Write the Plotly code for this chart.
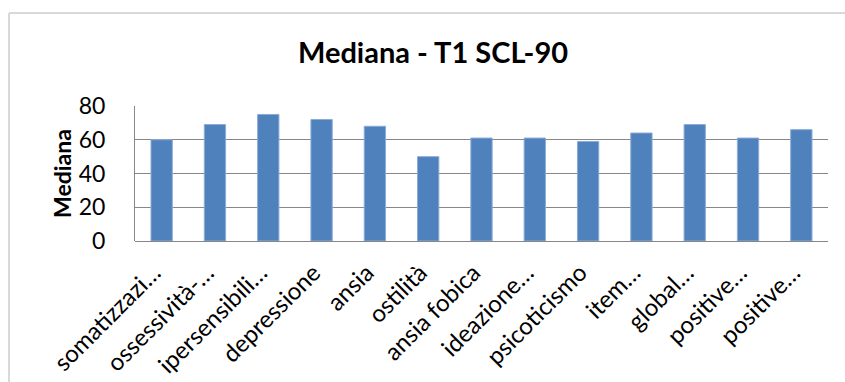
import plotly.graph_objects as go

# SCL-90 subscales (labels as truncated on the axis) and median T1 scores
labels = [
    "somatizzazi…", "ossessività-…", "ipersensibili…", "depressione", "ansia",
    "ostilità", "ansia fobica", "ideazione…", "psicoticismo", "item…",
    "global…", "positive…", "positive…",
]
mediana = [60, 69, 75, 72, 68, 50, 61, 61, 59, 64, 69, 61, 66]
y_ticks = [0, 20, 40, 60, 80]

W, H = 845, 382
ML, MR, MT, MB = 135, 17, 106, 141
PW, PH = W - ML - MR, H - MT - MB

FONT = "Lato, Open Sans, sans-serif"
GRID = "#878787"

positions = list(range(len(labels)))

fig = go.Figure(
    go.Bar(
        x=positions,
        y=mediana,
        width=0.4,
        marker=dict(color="#4F81BD", line=dict(color="#8CACD6", width=1)),
        hoverinfo="y",
    )
)

# outer chart frame (top and left edges visible)
fx = (9 - ML) / PW
fy = (H - MB - 13) / PH
fig.add_shape(type="line", xref="paper", yref="paper", x0=fx, x1=2, y0=fy, y1=fy,
              line=dict(color="#D9D9D9", width=2), layer="below")
fig.add_shape(type="line", xref="paper", yref="paper", x0=fx, x1=fx, y0=fy, y1=-2,
              line=dict(color="#D9D9D9", width=2), layer="below")

fig.update_layout(
    width=W,
    height=H,
    margin=dict(l=ML, r=MR, t=MT, b=MB, pad=0, autoexpand=False),
    paper_bgcolor="white",
    plot_bgcolor="white",
    showlegend=False,
    font=dict(family=FONT, color="black"),
    title=dict(
        text="<b>Mediana - T1 SCL-90</b>",
        x=433 / W, xanchor="center", xref="container",
        y=1 - 53 / H, yanchor="middle", yref="container",
        font=dict(family=FONT, size=29, color="black"),
    ),
    xaxis=dict(
        tickmode="array",
        tickvals=positions,
        ticktext=labels,
        tickangle=-45,
        tickfont=dict(family=FONT, size=24, color="black"),
        range=[-0.5, len(labels) - 0.5],
        showgrid=False,
        showline=False,
        zeroline=False,
        ticks="",
        ticklabelstandoff=12,
        ticklabelshift=-8,
        automargin=False,
    ),
    yaxis=dict(
        range=[0, 80],
        tickvals=y_ticks,
        tickfont=dict(family=FONT, size=23, color="black"),
        showgrid=True,
        gridcolor=GRID,
        gridwidth=1,
        zeroline=True,
        zerolinecolor=GRID,
        zerolinewidth=1,
        showline=True,
        linecolor=GRID,
        linewidth=1,
        ticks="",
        ticklabelstandoff=24,
        automargin=False,
        title=dict(text="<b>Mediana</b>", font=dict(family=FONT, size=23, color="black"),
                   standoff=0),
    ),
)

fig.write_html("out.html")
